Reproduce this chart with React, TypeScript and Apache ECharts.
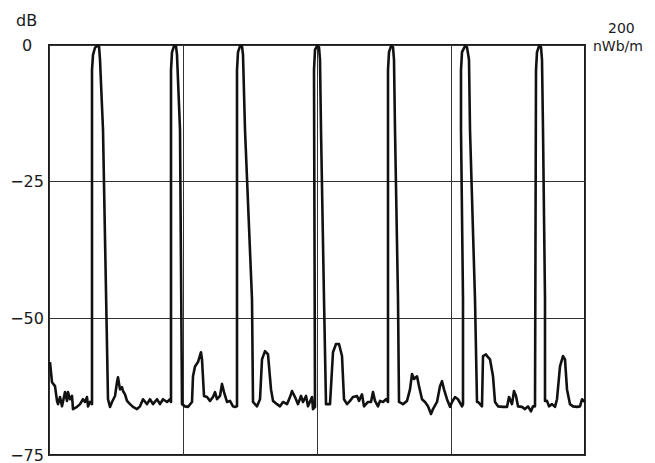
import React, { useEffect, useRef } from "react";
import * as echarts from "echarts";

// Horizontal position in scale units (0..536, four divisions of 134), level in dB
const traceX: number[] = [
  1, 3, 6, 8, 9, 11, 13, 16, 18, 19, 21, 23, 24, 28, 31, 34, 36, 38, 39, 41,
  43, 43, 44, 46, 48, 50, 51, 54, 59,
  61, 63, 66, 68, 69, 71, 73, 74, 76, 78, 81, 84, 88, 91, 94, 98, 101, 104, 108, 111, 114, 118, 121,
  122, 122, 123, 125, 127, 128, 131, 133,
  136, 139, 143, 144, 146, 149, 152, 153, 155, 158, 161, 164, 166, 168, 171, 173, 175, 178, 181, 184, 186,
  188, 188, 189, 191, 193, 194, 196, 203, 204,
  208, 211, 213, 216, 219, 222, 224, 228, 231, 234, 238, 241, 243, 246, 249, 252, 254, 257, 259, 263, 264,
  266, 265, 266, 268, 270, 271, 272, 275, 277,
  279, 281, 284, 287, 290, 293, 295, 298, 301, 304, 308, 310, 313, 315, 319, 322, 324, 326, 329, 331, 334, 337,
  339, 339, 340, 342, 344, 345, 346, 349, 350,
  354, 358, 361, 363, 365, 368, 370, 373, 376, 379, 382, 384, 388, 391, 393, 395, 398, 401, 403, 406, 409, 413,
  414, 414, 412, 412, 413, 416, 418, 420, 421, 426, 428,
  429, 433, 434, 437, 439, 441, 444, 446, 449, 454, 458, 460, 463, 465, 467, 469, 473, 476, 479, 482, 484,
  486, 487, 488, 490, 492, 493, 494, 496, 496,
  498, 500, 503, 506, 508, 511, 514, 516, 518, 521, 524, 528, 531, 533, 536,
];

const traceDb: number[] = [
  -58.0, -61.7, -62.4, -65.1, -65.7, -64.4, -66.1, -63.5, -65.1, -63.5, -64.8, -64.2, -66.6, -66.2, -65.7, -64.8, -65.3, -64.4, -66.1, -65.3,
  -65.7, -4.6, -1.8, -0.5, -0.2, -0.2, -2.7, -15.5, -64.8,
  -66.2, -65.3, -64.2, -61.7, -60.8, -63.0, -62.6, -63.3, -63.9, -65.1, -65.7, -66.2, -66.6, -66.1, -64.8, -65.7, -64.8, -65.7, -64.8, -65.7, -64.8, -65.3, -64.8,
  -65.3, -4.6, -1.3, -0.2, -0.2, -1.8, -15.5, -65.7,
  -66.1, -66.2, -65.3, -60.6, -58.8, -58.0, -56.2, -57.5, -64.2, -64.4, -65.1, -64.4, -63.5, -64.8, -64.2, -62.0, -63.5, -65.3, -65.1, -66.1, -66.2,
  -66.1, -4.6, -1.3, -0.2, -0.2, -1.8, -15.5, -46.5, -65.3,
  -66.1, -64.8, -57.5, -56.0, -56.6, -63.0, -65.1, -65.7, -66.1, -65.3, -65.7, -64.4, -63.3, -64.4, -65.7, -64.2, -65.3, -64.2, -66.1, -64.4, -66.6,
  -66.2, -4.6, -0.9, -0.2, -0.4, -2.7, -15.5, -46.5, -65.7,
  -65.7, -65.7, -56.2, -54.7, -54.7, -56.9, -64.8, -65.7, -65.1, -64.4, -64.2, -65.1, -63.9, -66.1, -65.3, -65.3, -63.5, -65.1, -66.1, -65.1, -65.3, -64.8,
  -65.3, -4.6, -1.3, -0.2, -0.4, -2.7, -15.5, -46.5, -65.3,
  -65.7, -65.1, -63.0, -60.2, -61.1, -60.6, -62.4, -64.8, -65.3, -66.1, -67.5, -66.6, -65.3, -62.4, -61.5, -63.0, -64.8, -66.2, -65.3, -64.4, -64.8, -66.1,
  -65.7, -46.5, -15.5, -4.6, -1.3, -0.2, -0.4, -2.7, -15.5, -46.5, -65.3,
  -65.3, -66.1, -56.9, -56.6, -57.1, -57.5, -60.6, -65.3, -66.1, -66.2, -66.2, -64.4, -65.7, -63.3, -64.2, -66.1, -66.2, -66.6, -66.1, -67.0, -66.1,
  -66.1, -4.6, -1.3, -0.2, -0.4, -2.7, -15.5, -46.5, -65.1,
  -65.1, -66.1, -65.7, -66.2, -64.8, -58.8, -56.9, -57.5, -63.0, -65.7, -66.1, -66.2, -66.1, -64.8, -65.3,
];

const yTicks: number[] = [0, -25, -50, -75];
const yUnit = "dB";
const scaleValue = "200";
const scaleUnit = "nWb/m";

export default function App() {
  const ref = useRef<HTMLDivElement>(null);

  useEffect(() => {
    if (!ref.current) return;
    const chart = echarts.init(ref.current, undefined, { renderer: "svg" });
    const data = traceX.map((x, i) => [x, traceDb[i]]);
    const font = "'DejaVu Sans', sans-serif";
    chart.setOption({
      animation: false,
      backgroundColor: "#ffffff",
      grid: {
        left: 49,
        right: 70,
        top: 45,
        bottom: 7,
        show: true,
        borderColor: "#1a1a1a",
        borderWidth: 2,
        containLabel: false,
      },
      xAxis: {
        type: "value",
        min: 0,
        max: 536,
        interval: 134,
        axisLine: { show: false },
        axisTick: { show: false },
        axisLabel: { show: false },
        splitLine: { show: true, lineStyle: { color: "#333", width: 1 } },
      },
      yAxis: {
        type: "value",
        min: -75,
        max: 0,
        interval: 25,
        axisLine: { show: false },
        axisTick: { show: false },
        axisLabel: {
          show: true,
          margin: 22,
          align: "center",
          color: "#1a1a1a",
          fontSize: 16,
          fontFamily: font,
          formatter: (v: number) =>
            yTicks.includes(v) ? String(v).replace("-", "\u2212") : "",
        },
        splitLine: { show: true, lineStyle: { color: "#333", width: 1.1 } },
      },
      graphic: [
        {
          type: "text",
          left: 16,
          top: 12,
          style: { text: yUnit, fill: "#1a1a1a", font: `16px ${font}` },
        },
        {
          type: "text",
          left: 608,
          top: 21,
          style: { text: scaleValue, fill: "#1a1a1a", font: `14px ${font}` },
        },
        {
          type: "text",
          left: 593,
          top: 39,
          style: { text: scaleUnit, fill: "#1a1a1a", font: `14px ${font}` },
        },
      ],
      series: [
        {
          type: "line",
          data,
          showSymbol: false,
          symbol: "none",
          lineStyle: { color: "#111", width: 2.6, join: "round" },
          clip: true,
        },
      ],
    });
    return () => chart.dispose();
  }, []);

  return <div ref={ref} style={{ width: 655, height: 463, position: "absolute", left: 0, top: 0 }} />;
}
